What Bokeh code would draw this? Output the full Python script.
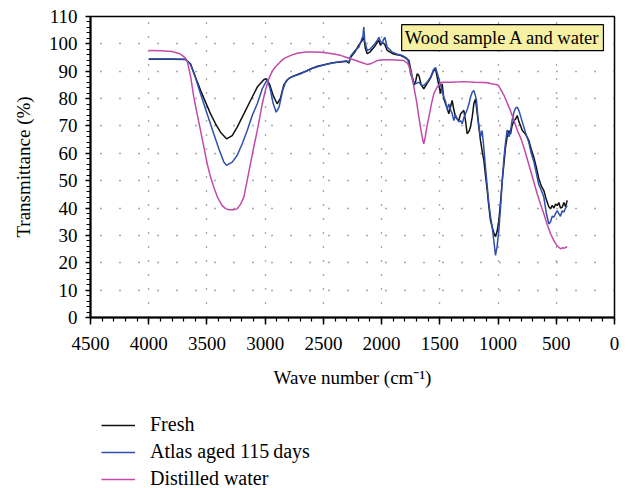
from bokeh.plotting import figure
from bokeh.models import Range1d, FixedTicker, Legend, LegendItem, Label
from bokeh.layouts import column
from bokeh.embed import file_html
from bokeh.resources import INLINE

# ---- data ----
fresh_wn = [4000, 3900, 3800, 3684, 3641, 3598, 3555, 3512, 3469, 3426, 3384, 3332, 3283, 3240,
            3183, 3126, 3068, 3012, 2990, 2960, 2930, 2897, 2870, 2840, 2800, 2760, 2700, 2650,
            2600, 2550, 2500, 2450, 2400, 2350, 2300, 2280, 2267, 2230, 2196, 2170, 2153, 2140,
            2124, 2100, 2060, 2038, 2024, 2010, 1995, 1973, 1952, 1909, 1870, 1838, 1800, 1766,
            1752, 1737, 1720, 1709, 1695, 1680, 1660, 1638, 1610, 1580, 1555, 1537, 1517, 1494,
            1480, 1466, 1451, 1437, 1423, 1408, 1394, 1380, 1365, 1337, 1322, 1294, 1280, 1265,
            1250, 1237, 1222, 1208, 1194, 1180, 1165, 1151, 1137, 1122, 1108, 1093, 1080, 1065,
            1050, 1036, 1022, 1008, 993, 979, 964, 950, 936, 922, 907, 893, 880, 864, 850, 835,
            820, 806, 792, 764, 736, 715, 693, 672, 650, 628, 607, 585, 564, 549, 535, 520, 506,
            492, 478, 464, 449, 435, 420, 406]
fresh_t = [94.4, 94.4, 94.4, 94.3, 92.7, 87.8, 83.0, 78.7, 74.4, 70.8, 67.7, 65.3, 66.5, 69.6,
           74.4, 79.3, 84.2, 86.9, 87.3, 85.0, 81.0, 78.1, 80.0, 85.0, 87.3, 88.2, 89.2, 90.0,
           91.0, 91.8, 92.3, 92.8, 93.2, 93.4, 93.6, 93.0, 95.0, 97.0, 99.5, 101.0, 102.4, 98.5,
           96.4, 97.0, 99.0, 100.5, 101.2, 99.5, 100.5, 99.8, 97.6, 96.5, 96.0, 95.8, 95.0, 94.0,
           91.0, 88.0, 85.0, 86.0, 89.0, 88.5, 85.0, 83.6, 85.5, 87.5, 90.0, 90.9, 86.6, 81.8,
           85.4, 80.0, 78.1, 76.5, 74.4, 77.0, 79.3, 76.0, 73.2, 72.0, 74.4, 75.7, 72.0, 67.1,
           68.0, 69.6, 73.2, 78.1, 79.9, 75.0, 69.6, 64.7, 61.0, 57.4, 52.0, 46.4, 41.0, 35.5,
           33.0, 31.0, 29.5, 31.5, 35.5, 42.0, 50.0, 56.0, 62.2, 66.0, 68.3, 67.0, 70.0, 72.0,
           72.5, 73.8, 71.5, 70.0, 68.3, 67.0, 64.7, 61.5, 58.6, 55.0, 50.7, 48.0, 46.4, 43.0,
           40.5, 39.7, 41.0, 40.0, 41.5, 40.9, 42.0, 40.0, 40.3, 42.0, 40.5, 42.8]

atlas_wn = [4000, 3900, 3800, 3684, 3641, 3598, 3555, 3498, 3441, 3398, 3355, 3332, 3283, 3240,
            3197, 3154, 3111, 3068, 3025, 2983, 2960, 2930, 2905, 2880, 2850, 2820, 2780, 2700,
            2650, 2600, 2500, 2400, 2300, 2280, 2267, 2230, 2196, 2175, 2160, 2153, 2145, 2124,
            2100, 2060, 2038, 2024, 2010, 1995, 1985, 1973, 1952, 1909, 1870, 1823, 1780, 1766,
            1752, 1730, 1709, 1680, 1660, 1638, 1610, 1580, 1555, 1537, 1520, 1500, 1480, 1466,
            1451, 1437, 1423, 1408, 1394, 1380, 1365, 1350, 1337, 1322, 1308, 1294, 1280, 1265,
            1250, 1237, 1222, 1208, 1194, 1185, 1170, 1151, 1137, 1122, 1108, 1093, 1080, 1065,
            1050, 1036, 1022, 1008, 993, 979, 964, 950, 936, 922, 907, 893, 880, 864, 850, 835,
            820, 806, 792, 764, 736, 715, 693, 672, 650, 628, 607, 585, 564, 549, 535, 521, 506,
            492, 478, 464, 449, 435, 420, 406]
atlas_t = [94.5, 94.5, 94.5, 94.4, 92.5, 87.5, 81.8, 74.4, 67.1, 61.7, 56.8, 55.6, 56.8, 59.3,
           63.5, 68.3, 73.8, 78.1, 83.6, 86.9, 84.0, 78.0, 75.0, 77.0, 83.0, 86.5, 87.8, 89.0,
           90.0, 91.0, 92.3, 93.2, 93.8, 93.3, 95.5, 97.5, 98.8, 101.2, 103.0, 106.1, 101.0, 97.6,
           98.0, 100.0, 101.2, 102.4, 101.0, 100.0, 101.5, 102.4, 98.8, 97.0, 96.3, 95.8, 94.6, 93.0,
           89.1, 86.5, 85.4, 86.0, 85.0, 84.8, 86.0, 87.8, 90.5, 91.4, 89.0, 86.0, 83.0, 80.5,
           79.0, 76.0, 78.0, 76.0, 74.5, 72.0, 74.0, 72.5, 71.5, 72.0, 70.8, 73.0, 74.4, 76.0,
           78.0, 80.5, 82.3, 83.0, 81.0, 79.3, 72.0, 65.9, 68.3, 62.0, 54.9, 48.0, 42.0, 37.0,
           33.0, 28.0, 22.7, 26.0, 32.0, 40.0, 50.0, 58.0, 64.0, 68.5, 66.0, 68.0, 72.0, 75.0,
           76.5, 76.9, 75.5, 73.5, 71.5, 67.5, 64.0, 60.0, 57.0, 53.0, 48.5, 46.4, 44.0, 38.0,
           34.2, 35.0, 37.0, 36.7, 38.0, 39.1, 38.0, 37.0, 39.0, 38.5, 40.0, 40.9]

water_wn = [4000, 3900, 3800, 3785, 3740, 3713, 3690, 3670, 3640, 3613, 3585, 3555, 3525, 3498,
            3470, 3441, 3410, 3369, 3340, 3312, 3270, 3240, 3210, 3183, 3155, 3126, 3097, 3068,
            3045, 3025, 2995, 2969, 2945, 2926, 2880, 2840, 2780, 2725, 2650, 2582, 2520, 2467,
            2410, 2353, 2300, 2239, 2180, 2124, 2095, 2038, 1981, 1938, 1880, 1809, 1780, 1766,
            1745, 1723, 1700, 1680, 1660, 1645, 1638, 1625, 1610, 1594, 1570, 1551, 1520, 1480,
            1400, 1300, 1200, 1130, 1093, 1065, 1030, 1000, 979, 950, 922, 893, 864, 830, 800,
            779, 750, 721, 693, 664, 636, 607, 578, 549, 520, 492, 464, 445, 430, 415, 406]
water_t = [97.6, 97.5, 97.2, 97.0, 96.5, 95.8, 95.0, 93.9, 88.0, 80.5, 74.5, 68.3, 62.0, 56.2,
           51.5, 47.6, 44.0, 40.9, 39.8, 39.4, 39.4, 39.7, 41.5, 44.0, 50.0, 56.2, 62.5, 68.3,
           73.5, 78.1, 83.5, 87.2, 89.5, 90.9, 93.0, 94.6, 95.8, 96.6, 97.0, 97.0, 96.9, 96.7,
           96.3, 95.8, 95.0, 94.2, 93.3, 92.5, 92.7, 93.9, 94.2, 94.2, 94.1, 93.9, 93.0, 92.1,
           89.0, 84.2, 79.0, 73.2, 68.0, 64.5, 63.5, 66.0, 70.0, 73.2, 78.5, 81.8, 84.5, 86.0,
           86.0, 86.2, 86.0, 85.9, 85.8, 85.5, 85.2, 85.0, 83.5, 81.3, 78.5, 75.5, 72.0, 68.0, 65.0,
           62.2, 58.0, 53.7, 49.5, 45.2, 41.5, 37.9, 34.0, 30.6, 28.0, 26.2, 25.1, 25.5, 25.3, 25.8, 25.7]

series_names = ["Fresh", "Atlas aged 115\u2009days", "Distilled water"]
series_colors = ["#111111", "#2f4fae", "#c24aa8"]
series_data = [(fresh_wn, fresh_t), (atlas_wn, atlas_t), (water_wn, water_t)]
title_text = "Wood sample A and water"
x_ticks = [0, 500, 1000, 1500, 2000, 2500, 3000, 3500, 4000, 4500]
y_ticks = [0, 10, 20, 30, 40, 50, 60, 70, 80, 90, 100, 110]

FONT = "Liberation Serif"

# ---- main chart ----
p = figure(width=630, height=400, output_backend="svg", toolbar_location=None,
           x_range=Range1d(4500, 0), y_range=Range1d(0, 110),
           min_border_left=90, min_border_right=16, min_border_top=16, min_border_bottom=83)
p.outline_line_color = "black"
p.outline_line_width = 1.5
p.background_fill_color = "white"
p.border_fill_color = "white"

p.xaxis.ticker = FixedTicker(ticks=x_ticks, minor_ticks=list(range(0, 4501, 100)))
p.yaxis.ticker = FixedTicker(ticks=y_ticks, minor_ticks=list(range(0, 111, 2)))

for ax in (p.xaxis[0], p.yaxis[0]):
    ax.axis_line_color = "black"
    ax.axis_line_width = 2
    ax.major_tick_line_color = "black"
    ax.minor_tick_line_color = "black"
    ax.major_tick_line_width = 1.5
    ax.minor_tick_line_width = 1.2
    ax.major_label_text_font = FONT
    ax.major_label_text_font_size = "19px"
    ax.major_label_text_color = "black"
    ax.axis_label_text_font = FONT
    ax.axis_label_text_font_size = "19px"
    ax.axis_label_text_font_style = "normal"
    ax.axis_label_text_color = "black"

p.xaxis.major_tick_out = 7
p.xaxis.major_tick_in = 0
p.xaxis.minor_tick_out = 4
p.xaxis.minor_tick_in = 0
p.xaxis.major_label_standoff = 12
p.xaxis.axis_label = "Wave number (cm\u207b\u00b9)"
p.xaxis.axis_label_standoff = 14

p.yaxis.major_tick_out = 5
p.yaxis.major_tick_in = 0
p.yaxis.minor_tick_out = 4
p.yaxis.minor_tick_in = 0
p.yaxis.major_label_standoff = 8
p.yaxis.axis_label = "Transmittance (%)"
p.yaxis.axis_label_standoff = 12

p.xgrid.grid_line_color = "#555555"
p.xgrid.grid_line_width = 1.3
p.xgrid.grid_line_dash = "1 13"
p.ygrid.grid_line_color = "#555555"
p.ygrid.grid_line_width = 1.3
p.ygrid.grid_line_dash = "1 18"

for (wn, t), c in zip(series_data, series_colors):
    p.line(wn, t, line_color=c, line_width=1.5)

title = Label(x=95, y=107.0, text=title_text, text_align="right", text_baseline="top",
              text_font=FONT, text_font_size="18.5px", text_color="black",
              background_fill_color="#f6f0a2", border_line_color="black",
              border_line_width=1.2, padding=3)
p.add_layout(title)

# ---- legend strip below the chart (series lie outside its visible ranges) ----
lg = figure(width=630, height=88, output_backend="svg", toolbar_location=None,
            x_range=Range1d(0, 1), y_range=Range1d(0, 1),
            x_axis_type=None, y_axis_type=None,
            min_border_left=0, min_border_right=0, min_border_top=0, min_border_bottom=0)
lg.outline_line_color = None
lg.grid.visible = False
items = []
for (wn, t), c, name in zip(series_data, series_colors, series_names):
    r = lg.line(wn, t, line_color=c, line_width=1.5)
    items.append(LegendItem(label=name, renderers=[r]))

legend = Legend(items=items, location=(11, -2), orientation="vertical",
                label_text_font=FONT, label_text_font_size="20px", label_text_color="black",
                glyph_width=34, glyph_height=20, label_height=20, label_standoff=15,
                spacing=4, padding=0, margin=0,
                border_line_color=None, background_fill_alpha=0)
lg.add_layout(legend, "center")

open("out.html", "w").write(file_html(column(p, lg, spacing=0), INLINE))
